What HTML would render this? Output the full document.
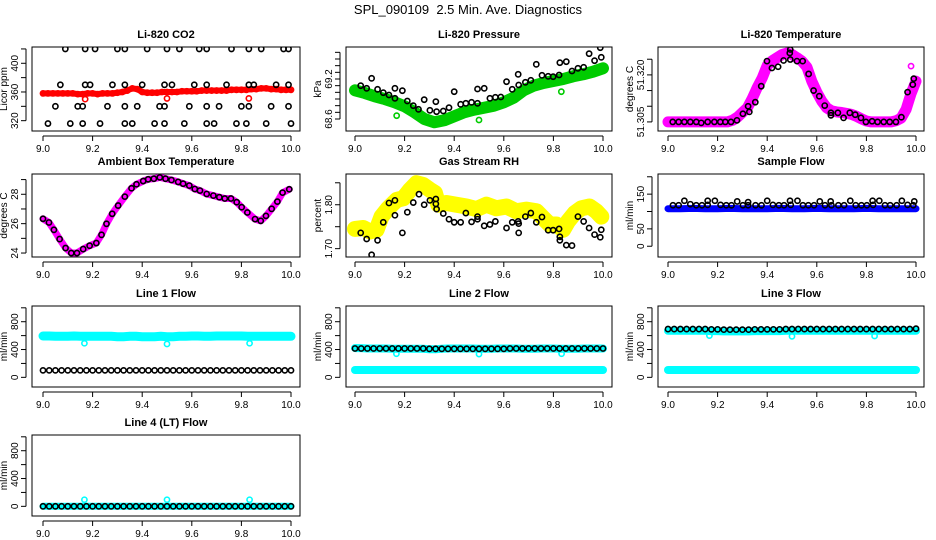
<!DOCTYPE html>
<html><head><meta charset="utf-8">
<style>
html,body{margin:0;padding:0;background:#fff;}
svg{display:block;font-family:"Liberation Sans",Arial,sans-serif;}
</style></head>
<body>
<svg id="chart" width="936" height="540" viewBox="0 0 936 540" xmlns="http://www.w3.org/2000/svg">
<text x="468" y="14" text-anchor="middle" font-size="13">SPL_090109&#160; 2.5 Min. Ave. Diagnostics</text>
</svg>
<script>
// ---------- data ----------
const co2Red = [358,358,358,358,358,358,358,357,357,358,358,357,358,358,358,359,360,362,365,364,360,359,359,359,360,360,360,360,361,361,361,361,362,362,362,362,362,362,363,363,363,363,364,364,365,365,364,364,363,363,363];
const co2RedOutT = [9.17,9.50,9.83];
const co2RedOutV = [350,351,351];
const co2BlkT = [9.09,9.17,9.21,9.30,9.33,9.42,9.50,9.55,9.63,9.66,9.76,9.83,9.88,9.97,9.99,
 9.07,9.17,9.19,9.28,9.33,9.40,9.49,9.52,9.61,9.66,9.74,9.83,9.85,9.94,9.99,
 9.05,9.14,9.16,9.26,9.33,9.38,9.47,9.49,9.59,9.66,9.71,9.80,9.83,9.92,9.99,
 9.02,9.11,9.16,9.23,9.33,9.36,9.45,9.49,9.57,9.66,9.69,9.78,9.82,9.90,10.0];
const co2BlkV = [420,420,420,420,420,420,420,420,420,420,420,420,420,420,420,
 370,370,370,370,370,370,370,370,370,370,370,370,370,370,370,
 340,340,340,340,340,340,340,340,340,340,340,340,340,340,340,
 316,316,316,316,316,316,316,316,316,316,316,316,316,316,316];

const presGreen = [69.03,68.99,68.94,68.90,68.85,68.79,68.70,68.60,68.55,68.58,68.64,68.70,68.74,68.77,68.80,68.85,68.92,69.03,69.10,69.14,69.17,69.20,69.24,69.27,69.31,69.36];
const presGreenOutT = [9.168,9.50,9.832];
const presGreenOutV = [68.65,68.585,69.01];
const presBlkT = [9.023,9.047,9.067,9.091,9.114,9.137,9.161,9.161,9.191,9.211,9.235,9.256,9.279,9.302,9.326,9.329,9.356,9.379,9.40,9.426,9.447,9.470,9.494,9.494,9.521,9.544,9.566,9.588,9.611,9.634,9.658,9.660,9.687,9.709,9.731,9.754,9.779,9.799,9.823,9.826,9.852,9.875,9.899,9.922,9.944,9.966,9.989,9.993];
const presBlkV = [69.10,69.06,69.21,69.045,68.995,68.96,69.06,68.91,69.025,68.87,68.80,68.745,68.89,68.73,68.86,68.71,68.72,68.77,69.01,68.82,68.835,68.85,69.05,68.835,69.06,68.91,68.925,68.93,69.16,69.045,69.27,69.11,69.15,69.18,69.42,69.255,69.24,69.235,69.26,69.445,69.46,69.32,69.36,69.375,69.58,69.475,69.67,69.525];

const tempMag = [51.3050,51.3050,51.3050,51.3050,51.3050,51.3050,51.3050,51.3050,51.3050,51.3050,51.3050,51.3050,51.3050,51.3055,51.3065,51.3080,51.3095,51.3125,51.3160,51.3190,51.3230,51.3245,51.3255,51.3265,51.3270,51.3265,51.3255,51.3244,51.3225,51.3180,51.3145,51.3116,51.3095,51.3085,51.3082,51.3080,51.3077,51.3074,51.3068,51.3060,51.3053,51.3050,51.3050,51.3050,51.3050,51.3050,51.3054,51.3062,51.3090,51.3140,51.3180];
const tempMagOutT = [9.98];
const tempMagOutV = [51.3228];
const tempBlkT = [9.019,9.043,9.066,9.090,9.114,9.134,9.160,9.187,9.211,9.231,9.254,9.278,9.302,9.323,9.328,9.352,9.376,9.399,9.419,9.444,9.466,9.491,9.493,9.493,9.520,9.543,9.567,9.587,9.610,9.632,9.657,9.657,9.685,9.708,9.733,9.755,9.778,9.798,9.823,9.845,9.870,9.894,9.919,9.941,9.966,9.987,9.991];
const tempBlkV = [51.3050,51.3050,51.3050,51.3050,51.3050,51.3047,51.3050,51.3050,51.3050,51.3050,51.3050,51.3055,51.3076,51.3100,51.3082,51.3113,51.3164,51.3244,51.3222,51.3226,51.3246,51.3270,51.3281,51.3249,51.3244,51.3244,51.3203,51.3150,51.3132,51.3102,51.3079,51.3071,51.3079,51.3063,51.3079,51.3073,51.3063,51.3050,51.3052,51.3050,51.3050,51.3050,51.3050,51.3065,51.3145,51.3169,51.3188];

const ambT = [9.000,9.024,9.044,9.067,9.091,9.114,9.137,9.162,9.188,9.215,9.236,9.256,9.279,9.303,9.330,9.357,9.377,9.404,9.424,9.447,9.471,9.494,9.518,9.545,9.565,9.590,9.612,9.633,9.660,9.687,9.711,9.733,9.758,9.781,9.801,9.824,9.855,9.878,9.899,9.922,9.945,9.966,9.993];
const ambV = [26.33,26.08,25.58,24.95,24.34,24.00,24.00,24.27,24.50,24.68,25.24,25.99,26.67,27.23,27.84,28.41,28.68,28.90,29.02,29.06,29.15,29.06,28.97,28.84,28.72,28.59,28.36,28.25,28.02,27.91,27.80,27.71,27.71,27.46,27.12,26.76,26.31,26.19,26.53,27.01,27.50,28.11,28.34];

const rhYelT = [9.000,9.034,9.060,9.087,9.107,9.134,9.168,9.195,9.222,9.248,9.275,9.302,9.322,9.336,9.369,9.409,9.450,9.490,9.530,9.570,9.611,9.651,9.691,9.732,9.758,9.785,9.812,9.839,9.859,9.886,9.913,9.946,9.973,9.993];
const rhYelV = [1.745,1.747,1.739,1.743,1.773,1.792,1.811,1.815,1.834,1.849,1.845,1.834,1.827,1.800,1.804,1.800,1.796,1.790,1.800,1.792,1.796,1.785,1.789,1.785,1.770,1.755,1.755,1.743,1.762,1.781,1.792,1.796,1.785,1.773];
const rhBlkT = [9.023,9.047,9.067,9.091,9.114,9.137,9.161,9.161,9.191,9.211,9.235,9.258,9.279,9.302,9.326,9.326,9.329,9.356,9.379,9.400,9.426,9.447,9.470,9.494,9.494,9.521,9.544,9.566,9.611,9.634,9.658,9.660,9.660,9.687,9.709,9.731,9.754,9.779,9.799,9.823,9.826,9.826,9.852,9.875,9.899,9.922,9.944,9.966,9.989,9.993];
const rhBlkV = [1.736,1.722,1.686,1.719,1.760,1.804,1.810,1.776,1.736,1.783,1.805,1.824,1.800,1.810,1.813,1.802,1.790,1.780,1.767,1.760,1.760,1.781,1.761,1.773,1.767,1.752,1.755,1.762,1.747,1.760,1.762,1.757,1.736,1.773,1.781,1.760,1.772,1.742,1.742,1.745,1.727,1.719,1.708,1.707,1.773,1.762,1.747,1.732,1.726,1.743];

const sampBlue = [108,108,109,108,108,109,108,108,108,109,108,108,109,108,108,108,109,108,108,108,108];
const sampBlkT = [9.020,9.043,9.066,9.090,9.114,9.137,9.160,9.160,9.189,9.212,9.235,9.256,9.279,9.302,9.323,9.323,9.353,9.377,9.400,9.423,9.447,9.468,9.492,9.495,9.522,9.544,9.566,9.589,9.612,9.633,9.656,9.659,9.687,9.710,9.735,9.757,9.780,9.802,9.825,9.827,9.852,9.875,9.896,9.922,9.943,9.966,9.989,9.993];
const sampBlkV = [118,118,131,121,118,118,131,119,131,119,118,118,129,118,127,118,118,118,131,119,118,118,131,119,131,118,118,118,129,118,129,118,118,118,131,118,118,118,131,119,131,118,118,118,131,119,118,129];

const line1Cyan = [595,595,590,590,590,595,590,590,590,590,590,590,585,585,590,590,585,585,585,590,585,585,590,590,595,595,590,590,595,595,595,595,595,590,590,590,590,590,590,590,590];
const line1Blk = [100,100,100,100,100,100,100,100,100,100,100,100,100,100,100,100,100,100,100,100,100,100,100,100,100,100,100,100,100,100,100,100,100,100,100,100,100,100,100,100,100];
const line1OutT = [9.167,9.50,9.833];
const line1OutV = [490,480,490];

const line2CyanHi = [420,420,415,415,415,415,410,410,410,410,410,410,405,405,410,415,415,415,415,415,410,410,410,415,415,415,415,410,410,410,415,415,415,410,410,410,410,415,415,415,415];
const line2CyanLo = [105,105,105,105,105,105,105,105,105,105,105,105,105,105,105,105,105,105,105,105,105,105,105,105,105,105,105,105,105,105,105,105,105,105,105,105,105,105,105,105,105];
const line2Blk = [415,415,415,415,415,415,415,415,415,415,415,415,410,410,410,410,410,410,410,410,410,410,410,410,410,415,415,415,415,415,415,415,415,415,415,415,415,415,415,415,415];
const line2OutT = [9.167,9.50,9.833];
const line2OutV = [340,335,340];

const line3CyanHi = [670,670,670,670,670,670,670,665,665,660,660,660,660,660,665,665,665,665,665,670,670,670,670,670,670,670,670,670,670,670,670,670,670,670,670,670,670,670,670,670,670];
const line3CyanLo = [105,105,105,105,105,105,105,105,105,105,105,105,105,105,105,105,105,105,105,105,105,105,105,105,105,105,105,105,105,105,105,105,105,105,105,105,105,105,105,105,105];
const line3Blk = [694,694,694,694,694,694,694,690,690,686,686,686,686,686,690,690,690,690,690,694,694,694,694,694,694,694,694,694,694,694,694,694,694,694,694,694,694,694,694,694,700];
const line3OutT = [9.167,9.50,9.833];
const line3OutV = [600,590,595];

const line4Cyan = [0,0,0,0,0,0,0,0,0,0,0,0,0,0,0,0,0,0,0,0,0,0,0,0,0,0,0,0,0,0,0,0,0,0,0,0,0,0,0,0,0];
const line4Blk = [0,0,0,0,0,0,0,0,0,0,0,0,0,0,0,0,0,0,0,0,0,0,0,0,0,0,0,0,0,0,0,0,0,0,0,0,0,0,0,0,0];
const line4OutT = [9.167,9.50,9.833];
const line4OutV = [95,95,95];

const xTickVals = [9.0,9.2,9.4,9.6,9.8,10.0];
const xTickLabels = ["9.0","9.2","9.4","9.6","9.8","10.0"];

// ---------- drawing ----------
const NS = "http://www.w3.org/2000/svg";
const svg = document.getElementById('chart');
const COLS = [{l:32,r:300,x9:43,x10:291},{l:346,r:612,x9:355,x10:603},{l:658,r:924,x9:668,x10:916}];
const ROWS = [{t:47,b:131},{t:174,b:257},{t:306,b:387},{t:435,b:516}];

function mk(tag, attrs, parent){
  const e = document.createElementNS(NS, tag);
  for (const k in attrs) e.setAttribute(k, attrs[k]);
  (parent||svg).appendChild(e);
  return e;
}
function evenTimes(n){ const a=[]; for(let i=0;i<n;i++) a.push(9 + i/(n-1)); return a; }

function makePanel(name, col, row, title, ylab, ymin, ymax, yticks, ylabels){
  const c = COLS[col], r = ROWS[row];
  const g = mk('g', {});
  
  
  const sx = v => c.x9 + (v - 9) * (c.x10 - c.x9);
  const sy = v => r.b - (v - ymin) / (ymax - ymin) * (r.b - r.t);
  const box = mk('rect', {x:c.l, y:r.t, width:c.r-c.l, height:r.b-r.t, fill:'none', stroke:'#000', 'stroke-width':1}, g);
  
  
  const tt = mk('text', {x:(c.l+c.r)/2, y:r.t-9, 'text-anchor':'middle', 'font-size':11, 'font-weight':'bold'}, g);
  tt.textContent = title;
  
  
  // x axis
  const xa = mk('g', {}, g);
  
  
  mk('line', {x1:sx(9), x2:sx(10), y1:r.b+5, y2:r.b+5, stroke:'#000'}, xa);
  xTickVals.forEach((v,i) => {
    mk('line', {x1:sx(v), x2:sx(v), y1:r.b+5, y2:r.b+10, stroke:'#000'}, xa);
    const t = mk('text', {x:sx(v), y:r.b+21, 'text-anchor':'middle', 'font-size':10}, xa);
    t.textContent = xTickLabels[i];
    
    
  });
  // y axis
  const ya = mk('g', {}, g);
  
  
  mk('line', {x1:c.l-6, x2:c.l-6, y1:sy(yticks[0]), y2:sy(yticks[yticks.length-1]), stroke:'#000'}, ya);
  yticks.forEach(v => mk('line', {x1:c.l-11, x2:c.l-6, y1:sy(v), y2:sy(v), stroke:'#000'}, ya));
  ylabels.forEach(v => {
    const x = c.l - 14, y = sy(+v);
    const t = mk('text', {x:x, y:y, 'text-anchor':'middle', 'font-size':10, transform:`rotate(-90 ${x} ${y})`}, ya);
    t.textContent = v;
    
    
  });
  const yx = c.l - 25, yy = (r.t + r.b)/2;
  const yt = mk('text', {x:yx, y:yy, 'text-anchor':'middle', 'font-size':10, transform:`rotate(-90 ${yx} ${yy})`}, g);
  yt.textContent = ylab;
  
  
  const clipId = name + '-clip';
  const cp = mk('clipPath', {id:clipId}, g);
  mk('rect', {x:c.l, y:r.t, width:c.r-c.l, height:r.b-r.t}, cp);
  const data = mk('g', {'clip-path':`url(#${clipId})`}, g);
  
  
  return {sx, sy, g:data};
}

function band(p, ts, vs, color, w, label){
  const pts = ts.map((t,i) => p.sx(t).toFixed(1)+','+p.sy(vs[i]).toFixed(1)).join(' ');
  const pl = mk('polyline', {points:pts, fill:'none', stroke:color, 'stroke-width':w, 'stroke-linejoin':'round', 'stroke-linecap':'round'}, p.g);
  
  
}
function points(p, ts, vs, color, label){
  ts.forEach((t,i) => {
    const c = mk('circle', {cx:p.sx(t), cy:p.sy(vs[i]), r:2.6, fill:'none', stroke:color, 'stroke-width':1.6}, p.g);
    
    
  });
}

// Panel 1: CO2
let p = makePanel('co2', 0, 0, 'Li-820 CO2', 'Licor ppm', 305.6, 422.7, [320,340,360,380,400,420], ['320','360','400']);
band(p, evenTimes(co2Red.length), co2Red, '#ff0000', 6, 'co2-red-band');
points(p, evenTimes(co2Red.length), co2Red, '#ff0000', 'co2-red-point');
points(p, co2RedOutT, co2RedOutV, '#ff0000', 'co2-red-point');
points(p, co2BlkT, co2BlkV, '#000', 'co2-black-point');

// Panel 2: Pressure
p = makePanel('pressure', 1, 0, 'Li-820 Pressure', 'kPa', 68.42, 69.68, [68.6,68.7,68.8,68.9,69.0,69.1,69.2,69.3,69.4,69.5,69.6], ['68.6','69.2']);
band(p, evenTimes(presGreen.length), presGreen, '#00cc00', 12, 'pressure-green-band');
points(p, presGreenOutT, presGreenOutV, '#00cc00', 'pressure-green-point');
points(p, presBlkT, presBlkV, '#000', 'pressure-black-point');

// Panel 3: Temperature
p = makePanel('li820-temp', 2, 0, 'Li-820 Temperature', 'degrees C', 51.3021, 51.3289, [51.305,51.310,51.315,51.320,51.325], ['51.305','51.320']);
band(p, evenTimes(tempMag.length), tempMag, '#ff00ff', 11, 'temp-magenta-band');
points(p, evenTimes(tempMag.length), tempMag, '#ff00ff', 'temp-magenta-point');
points(p, tempMagOutT, tempMagOutV, '#ff00ff', 'temp-magenta-point');
points(p, tempBlkT, tempBlkV, '#000', 'temp-black-point');

// Panel 4: Ambient
p = makePanel('ambient', 0, 1, 'Ambient Box Temperature', 'degrees C', 23.73, 29.38, [24,25,26,27,28,29], ['24','26','28']);
band(p, ambT, ambV, '#ff00ff', 7, 'ambient-magenta-band');
points(p, ambT, ambV, '#000', 'ambient-black-point');

// Panel 5: RH
p = makePanel('rh', 1, 1, 'Gas Stream RH', 'percent', 1.681, 1.870, [1.70,1.75,1.80,1.85], ['1.70','1.80']);
band(p, rhYelT, rhYelV, '#ffff00', 16, 'rh-yellow-band');
points(p, rhYelT, rhYelV, '#ffff00', 'rh-yellow-point');
points(p, rhBlkT, rhBlkV, '#000', 'rh-black-point');

// Panel 6: Sample flow
p = makePanel('sample-flow', 2, 1, 'Sample Flow', 'ml/min', -31, 208, [0,50,100,150,200], ['0','50','150']);
band(p, evenTimes(sampBlue.length), sampBlue, '#0000ff', 7, 'sample-blue-band');
points(p, sampBlkT, sampBlkV, '#000', 'sample-black-point');

// Line flows
const LY = [-139,1026], LT = [0,200,400,600,800,1000], LL = ['0','400','800'];
p = makePanel('line1', 0, 2, 'Line 1 Flow', 'ml/min', LY[0], LY[1], LT, LL);
band(p, evenTimes(line1Cyan.length), line1Cyan, '#00ffff', 9, 'line1-cyan-band');
points(p, line1OutT, line1OutV, '#00ffff', 'line1-cyan-point');
points(p, evenTimes(line1Blk.length), line1Blk, '#000', 'line1-black-point');

p = makePanel('line2', 1, 2, 'Line 2 Flow', 'ml/min', LY[0], LY[1], LT, LL);
band(p, evenTimes(line2CyanHi.length), line2CyanHi, '#00ffff', 8, 'line2-cyan-band-high');
band(p, evenTimes(line2CyanLo.length), line2CyanLo, '#00ffff', 8, 'line2-cyan-band-low');
points(p, line2OutT, line2OutV, '#00ffff', 'line2-cyan-point');
points(p, evenTimes(line2Blk.length), line2Blk, '#000', 'line2-black-point');

p = makePanel('line3', 2, 2, 'Line 3 Flow', 'ml/min', LY[0], LY[1], LT, LL);
band(p, evenTimes(line3CyanHi.length), line3CyanHi, '#00ffff', 8, 'line3-cyan-band-high');
band(p, evenTimes(line3CyanLo.length), line3CyanLo, '#00ffff', 8, 'line3-cyan-band-low');
points(p, line3OutT, line3OutV, '#00ffff', 'line3-cyan-point');
points(p, evenTimes(line3Blk.length), line3Blk, '#000', 'line3-black-point');

p = makePanel('line4', 0, 3, 'Line 4 (LT) Flow', 'ml/min', LY[0], LY[1], LT, LL);
band(p, evenTimes(line4Cyan.length), line4Cyan, '#00ffff', 7, 'line4-cyan-band');
points(p, line4OutT, line4OutV, '#00ffff', 'line4-cyan-point');
points(p, evenTimes(line4Blk.length), line4Blk, '#000', 'line4-black-point');
</script>
</body></html>
